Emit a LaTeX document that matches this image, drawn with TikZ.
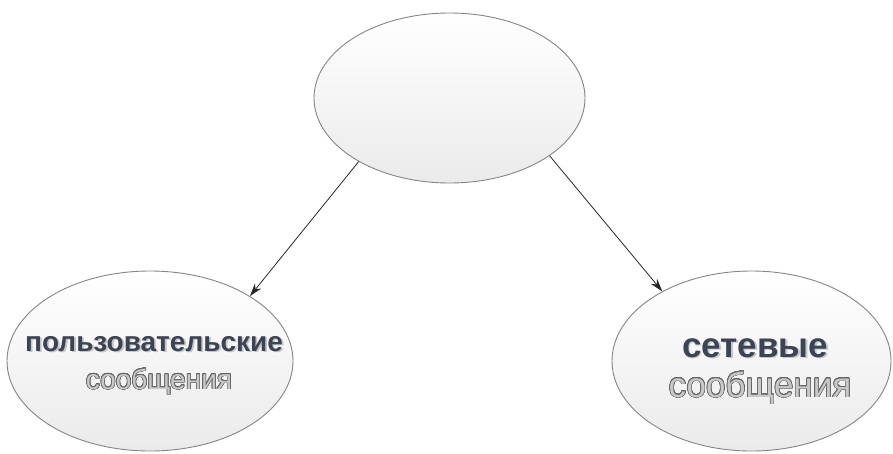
\documentclass[tikz,border=0pt]{standalone}
\usepackage{fontspec}
\setmainfont{Liberation Sans}
\usepackage{contour}
\usetikzlibrary{shapes.geometric,arrows.meta}

\definecolor{rim}{HTML}{858585}
\definecolor{ink}{HTML}{3C4453}
\definecolor{pale}{HTML}{C8C8C8}
\definecolor{edgeline}{HTML}{666666}
\definecolor{dropshade}{HTML}{C4C6CA}

\contourlength{0.6pt}
\contournumber{24}
% light-grey letters with a thin dark outline
\newcommand\outlined[1]{\contour{edgeline}{\textcolor{pale}{#1}}}
% dark letters over a soft offset copy
\newcommand\shadowed[1]{\rlap{\kern1.8pt\raisebox{-1.8pt}{\textcolor{dropshade}{#1}}}\textcolor{ink}{#1}}

\tikzset{
  bubble/.style={ellipse, draw=rim, line width=0.9pt,
    top color=white, bottom color=black!8, inner sep=0pt},
  link/.style={draw=black!85, line width=0.8pt,
    -{Stealth[length=13pt,width=8pt]}},
  label/.style={anchor=base, inner sep=0pt},
  smallfont/.style={font=\fontsize{28}{32}\selectfont},
  bigfont/.style={font=\fontsize{35}{40}\selectfont},
}

\begin{document}
\begin{tikzpicture}[x=1pt,y=-1pt]
  \useasboundingbox (0,0) rectangle (893,453);

  % the three ellipses
  \node[bubble, minimum width=271pt, minimum height=170pt] (root) at (449.5,98) {};
  \node[bubble, minimum width=286pt, minimum height=180pt] (user) at (150,361) {};
  \node[bubble, minimum width=279pt, minimum height=180pt] (net) at (751.5,361) {};

  % captions
  \node[label, font=\bfseries\fontsize{28}{32}\selectfont] (userA) at (154,351) {\shadowed{пользовательские}};
  \node[label, smallfont] (userB) at (159,389) {\outlined{сообщения}};
  \node[label, font=\bfseries\fontsize{35}{40}\selectfont] (netA) at (755,357) {\shadowed{сетевые}};
  \node[label, bigfont] (netB) at (760,397) {\outlined{сообщения}};

  % connectors
  \draw[link] (root.215) -- (user.33);
  \draw[link] (root.-30) -- (net.142);
\end{tikzpicture}
\end{document}
